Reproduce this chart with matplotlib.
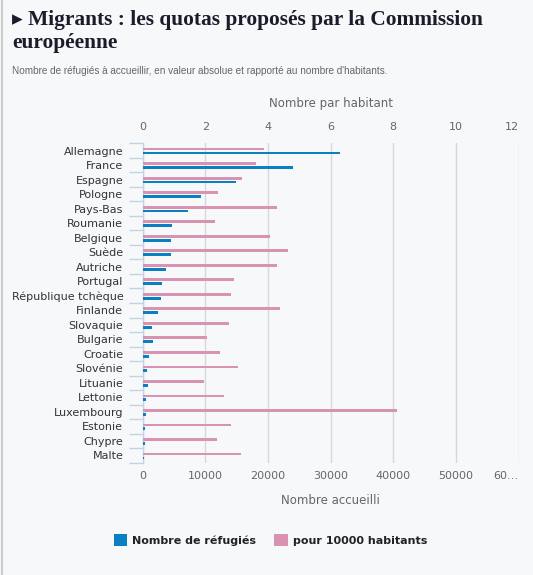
import matplotlib
matplotlib.use("Agg")
import matplotlib.pyplot as plt
from matplotlib.patches import Patch
from matplotlib.lines import Line2D
import numpy as np

# Data ======================================================================
pays = ["Allemagne", "France", "Espagne", "Pologne", "Pays-Bas", "Roumanie",
        "Belgique", "Suède", "Autriche", "Portugal", "République tchèque",
        "Finlande", "Slovaquie", "Bulgarie", "Croatie", "Slovénie", "Lituanie",
        "Lettonie", "Luxembourg", "Estonie", "Chypre", "Malte"]
refugies = [31443, 24031, 14931, 9287, 7214, 4646, 4564, 4469, 3640, 3074,
            2978, 2398, 1502, 1600, 1064, 631, 780, 526, 440, 373, 274, 133]
pour_10000 = [3.88, 3.61, 3.17, 2.40, 4.29, 2.30, 4.06, 4.64, 4.29, 2.91,
              2.82, 4.39, 2.76, 2.05, 2.46, 3.04, 1.95, 2.59, 8.12, 2.82,
              2.37, 3.14]
ticks_bas = [0, 10000, 20000, 30000, 40000, 50000, 60000]
labels_bas = ["0", "10000", "20000", "30000", "40000", "50000", "60…"]
ticks_haut = [0, 2, 4, 6, 8, 10, 12]
#============================================================================

bleu = "#0a80c2"
rose = "#d993b2"
fond = "#f7f8fa"
gris = "#666666"

W, H = 533, 575
fig = plt.figure(figsize=(W / 100, H / 100), dpi=100, facecolor=fond)

# axes position in pixels
x0, x1 = 142.8, 518.5
y0, y1 = 143.3, 462.7
ax = fig.add_axes([x0 / W, 1 - y1 / H, (x1 - x0) / W, (y1 - y0) / H])
ax.set_facecolor(fond)

y = np.arange(len(pays))
h = 0.19
ax.barh(y + 0.17, refugies, height=h, color=bleu, zorder=3)
ax.set_xlim(0, 60000)
ax.set_ylim(len(pays) - 0.5, -0.5)

ax.set_xticks(ticks_bas)
ax.set_xticklabels(labels_bas)
ax.get_xticklabels()[-1].set_horizontalalignment("right")
ax.tick_params(axis="x", length=0, pad=6, labelsize=8, labelcolor=gris)
ax.grid(axis="x", color="#d8d8d8", linewidth=1, zorder=0)
ax.set_xlabel("Nombre accueilli", color=gris, fontsize=8.5, labelpad=9)

ax.set_yticks(y)
ax.set_yticklabels(pays)
ax.set_yticks(np.arange(-0.5, len(pays)), minor=True)
ax.tick_params(axis="y", which="major", length=0, pad=14, labelsize=8,
               labelcolor="#333333")
ax.tick_params(axis="y", which="minor", length=10, width=1, color="#c4d2e2")

for s in ["top", "right", "bottom"]:
    ax.spines[s].set_visible(False)
ax.spines["left"].set_color("#c4d2e2")
ax.spines["left"].set_linewidth(1)

# top axis : nombre par habitant
ax2 = ax.twiny()
ax2.barh(y - 0.1, pour_10000, height=h, color=rose, zorder=3)
ax2.set_xlim(0, 12)
ax2.set_xticks(ticks_haut)
ax2.set_xticklabels([str(t) for t in ticks_haut])
ax2.get_xticklabels()[-1].set_horizontalalignment("right")
ax2.tick_params(axis="x", length=0, pad=8, labelsize=8, labelcolor=gris)
ax2.set_xlabel("Nombre par habitant", color=gris, fontsize=8.5, labelpad=11)
for s in ["top", "right", "bottom", "left"]:
    ax2.spines[s].set_visible(False)

# titles, fitted to the width of the reference
t1 = fig.text(12 / W, 1 - 24.5 / H, "▸ Migrants : les quotas proposés par la Commission",
              fontsize=15, fontweight="bold", family=["Liberation Serif", "DejaVu Serif"],
              color="#1b1b2b", va="baseline")
t2 = fig.text(12 / W, 1 - 47.6 / H, "européenne",
              fontsize=15, fontweight="bold", family=["Liberation Serif", "DejaVu Serif"],
              color="#1b1b2b", va="baseline")
r = fig.canvas.get_renderer()
w = t1.get_window_extent(r).width
fs = 15 * 473 / w
t1.set_fontsize(fs)
t2.set_fontsize(fs)

fig.text(12 / W, 1 - 71.4 / H,
         "Nombre de réfugiés à accueillir, en valeur absolue et rapporté au nombre d'habitants.",
         fontsize=7.2, family="Liberation Sans", color=gris, va="center")

# legend
handles = [Patch(facecolor=bleu, edgecolor="none", label="Nombre de réfugiés"),
           Patch(facecolor=rose, edgecolor="none", label="pour 10000 habitants")]
fig.legend(handles=handles, loc="center", bbox_to_anchor=(270.5 / W, 1 - 540 / H),
           ncol=2, frameon=False, handlelength=1.2, handleheight=1.2,
           columnspacing=1.6, handletextpad=0.5,
           prop={"weight": "bold", "size": 8}, labelcolor="#222222")

# left border line
fig.add_artist(Line2D([1.5 / W, 1.5 / W], [0, 1], color="#cccccc", linewidth=1.5,
                      transform=fig.transFigure))

fig.savefig("out.png", dpi=100, facecolor=fond)
